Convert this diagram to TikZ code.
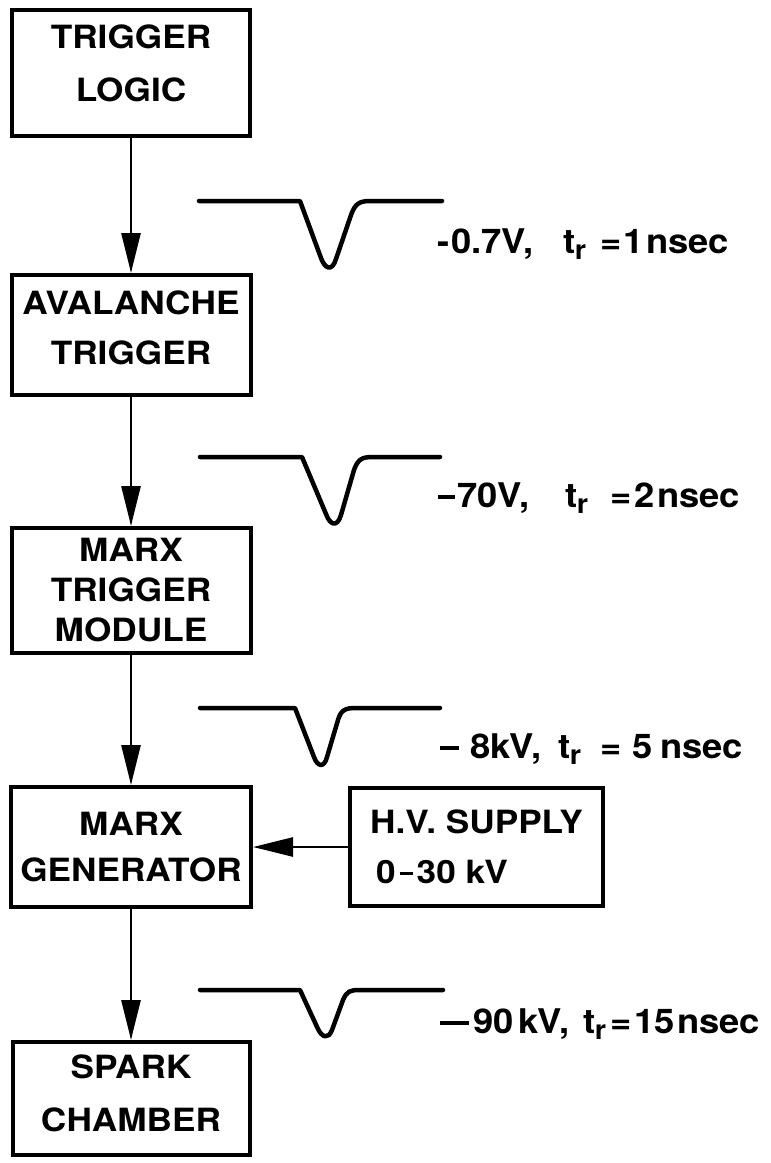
\documentclass[tikz,border=0pt]{standalone}
\usepackage{fontspec}
\setmainfont{TeX Gyre Heros}[FakeStretch=1.07]
\newfontfamily\boxfont{TeX Gyre Heros}[FakeStretch=1.1]
\usetikzlibrary{arrows.meta}
\newcommand\tsubr{t\kern-0.5pt\raisebox{-6pt}{\fontsize{27}{27}\selectfont r}}
\newcommand\pc[2]{\makebox[#1pt][l]{#2}}
\newcommand\mn[1]{\rule[8.5pt]{#1pt}{3.4pt}}
\begin{document}
\begin{tikzpicture}[x=1pt,y=-1pt,
  box/.style={draw, line width=4pt, align=center, inner sep=0pt,
    font=\boxfont\bfseries\fontsize{32}{#1}\selectfont},
  arr/.style={line width=2.6pt, -{Triangle[length=40pt,width=19pt]}},
  wave/.style={line width=4.5pt, line cap=round, line join=round},
  lab/.style={anchor=base west, inner sep=0pt, font=\bfseries\fontsize{34}{38}\selectfont}]
\useasboundingbox (0,0) rectangle (771,1163);

% boxes
\node[box=53, minimum width=238pt, minimum height=126pt, text depth=19pt] (tl) at (131,73) {TRIGGER\\LOGIC};
\node[box=50, minimum width=239pt, minimum height=120pt, text depth=15pt] (av) at (131,335) {AVALANCHE\\TRIGGER};
\node[box=40, minimum width=239pt, minimum height=125pt] (mt) at (131,590.5) {MARX\\TRIGGER\\MODULE};
\node[box=46, minimum width=240pt, minimum height=120pt] (mg) at (131,847) {MARX\\GENERATOR};
\node[box=50, minimum width=253pt, minimum height=118pt, align=left] (hv) at (476.5,847) {H.V. SUPPLY\\\kern6pt 0\kern4pt\mn{13}\kern4pt30 kV};
\node[box=53, minimum width=237pt, minimum height=113pt, text depth=10pt] (sc) at (131,1098.5) {SPARK\\CHAMBER};

% connectors
\draw[arr] (tl.south) -- (av.north);
\draw[arr] (av.south) -- (mt.north);
\draw[arr] (mt.south) -- (mg.north);
\draw[arr] (mg.south) -- (sc.north);
\draw[arr] (hv.west) -- (mg.east);

% pulse shapes
\draw[wave] (199,201) -- (300,201) -- (321,258) .. controls (325,269) and (332,272) .. (336,259)
  -- (351,215) .. controls (355,204) and (359,201) .. (370,201) -- (442,201);
\draw[wave] (200,457) -- (302,457) -- (326,514) .. controls (330,525) and (337,528) .. (341,515)
  -- (354,470) .. controls (358,459) and (362,457) .. (373,457) -- (440,457);
\draw[wave] (200,708) -- (295,708) -- (314,757) .. controls (317,766) and (324,769) .. (327,757)
  -- (338,720) .. controls (341,710) and (345,708) .. (356,708) -- (440,708);
\draw[wave] (200,990) -- (300,990) -- (318,1029) .. controls (322,1037) and (328,1040) .. (332,1030)
  -- (343,1000) .. controls (347,991) and (350,990) .. (360,990) -- (443,990);

% labels
\node[lab] (l1) at (437,253) {\pc{14}{-}\pc{112}{0.7V,}\pc{37}{\tsubr}\pc{23}{=}\pc{23}{1}nsec};
\node[lab] (l2) at (438,507) {\pc{19}{\mn{17}}\pc{108}{70V,}\pc{45}{\tsubr}\pc{24}{=}\pc{23}{2}nsec};
\node[lab] (l3) at (440,758) {\pc{30}{\mn{19}}\pc{88}{8kV,}\pc{42}{\tsubr}\pc{32}{=}\pc{28}{5}nsec};
\node[lab] (l4) at (440,1033) {\pc{33}{\mn{29}}\pc{45}{90}\pc{65}{kV,}\pc{27}{\tsubr}\pc{24}{=}\pc{43}{15}nsec};
\end{tikzpicture}
\end{document}
